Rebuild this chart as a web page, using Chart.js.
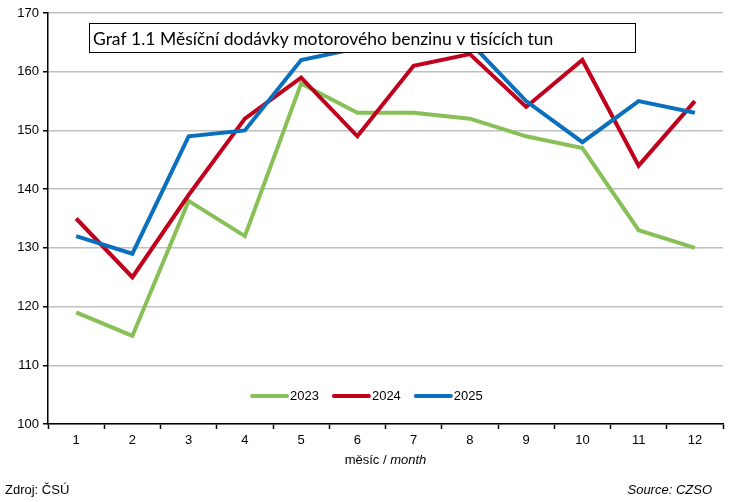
<!DOCTYPE html>
<html><head><meta charset="utf-8">
<script src="https://cdn.jsdelivr.net/npm/chart.js@4"></script>
<style>html,body{margin:0;padding:0;background:#fff}canvas{display:block}</style>
</head><body>
<canvas id="c" width="733" height="502" style="width:733px;height:502px"></canvas>
<script>
const months = ['1','2','3','4','5','6','7','8','9','10','11','12'];
const series2023 = [119,115,138,132,158,153,153,152,149,147,133,130];
const series2024 = [135,125,139,152,159,149,161,163,154,162,144,155];
const series2025 = [132,129,149,150,162,164,165,165,155,148,155,153];
const yTicks = [100,110,120,130,140,150,160,170];
const chartTitle = 'Graf 1.1 Měsíční dodávky motorového benzinu v tisících tun';

const GREEN='#88c057', RED='#c0001c', BLUE='#0a70bd';
const FONT='"Liberation Sans", Arial, sans-serif';

const overlay = {
  id:'overlay',
  afterDraw(chart){
    const ctx=chart.ctx, a=chart.chartArea;
    ctx.save();
    // legend
    const items=chart.data.datasets.slice().sort((p,q)=>p.legendIndex-q.legendIndex);
    ctx.font='13px '+FONT; ctx.textBaseline='middle';
    let x=252; const y=396;
    items.forEach(ds=>{
      ctx.strokeStyle=ds.borderColor; ctx.lineWidth=4; ctx.lineCap='round';
      ctx.beginPath(); ctx.moveTo(x,y); ctx.lineTo(x+35,y); ctx.stroke();
      ctx.fillStyle='#000'; ctx.textAlign='left';
      ctx.fillText(ds.label,x+38,y);
      x+=38+ctx.measureText(ds.label).width+15;
    });
    // title box
    ctx.fillStyle='#fff'; ctx.fillRect(89,23,546,30);
    ctx.strokeStyle='#000'; ctx.lineWidth=1; ctx.strokeRect(89.5,23.5,546,29);
    ctx.fillStyle='#000'; ctx.font='17.5px Lato, "Open Sans", sans-serif'; ctx.textAlign='left';
    ctx.fillText(chartTitle,93,39);
    // axis title
    ctx.textBaseline='middle';
    const p1='měsíc / ', p2='month';
    ctx.font='13px '+FONT; const w1=ctx.measureText(p1).width;
    ctx.font='italic 13px '+FONT; const w2=ctx.measureText(p2).width;
    let sx=(a.left+a.right)/2-(w1+w2)/2;
    ctx.font='13px '+FONT; ctx.fillText(p1,sx,460);
    ctx.font='italic 13px '+FONT; ctx.fillText(p2,sx+w1,460);
    // footer
    ctx.font='13px '+FONT; ctx.textAlign='left'; ctx.fillText('Zdroj: ČSÚ',5,490);
    ctx.font='italic 13px '+FONT; ctx.textAlign='right'; ctx.fillText('Source: CZSO',712,490);
    ctx.restore();
  }
};

new Chart(document.getElementById('c'),{
  type:'line',
  data:{labels:months,datasets:[
    {label:'2025',data:series2025,borderColor:BLUE,order:1,legendIndex:3},
    {label:'2024',data:series2024,borderColor:RED,order:2,legendIndex:2},
    {label:'2023',data:series2023,borderColor:GREEN,order:3,legendIndex:1}
  ].map(d=>Object.assign({borderWidth:4,pointRadius:0,tension:0,fill:false,borderJoinStyle:'miter',borderCapStyle:'butt'},d))},
  options:{
    responsive:false,animation:false,devicePixelRatio:1,
    layout:{padding:{top:13,right:10,left:0,bottom:0}},
    plugins:{legend:{display:false},tooltip:{enabled:false},title:{display:false}},
    scales:{
      x:{type:'category',offset:true,
        grid:{offset:true,drawOnChartArea:false,drawTicks:true,tickLength:5,tickColor:'#000',tickWidth:1.5},
        border:{color:'#000',width:1.5},
        ticks:{color:'#000',font:{family:FONT,size:13},padding:4,maxRotation:0},
        afterFit(s){s.height=78;}
      },
      y:{min:100,max:170,
        afterBuildTicks(s){s.ticks=yTicks.map(v=>({value:v}));},
        grid:{color:'#c0c0c0',lineWidth:1.5,tickLength:5,tickColor:'#000',tickWidth:1.5},
        border:{color:'#000',width:1.5},
        ticks:{color:'#000',font:{family:FONT,size:13},padding:4},
        afterFit(s){s.width=48;}
      }
    }
  },
  plugins:[overlay]
});
</script>
</body></html>
